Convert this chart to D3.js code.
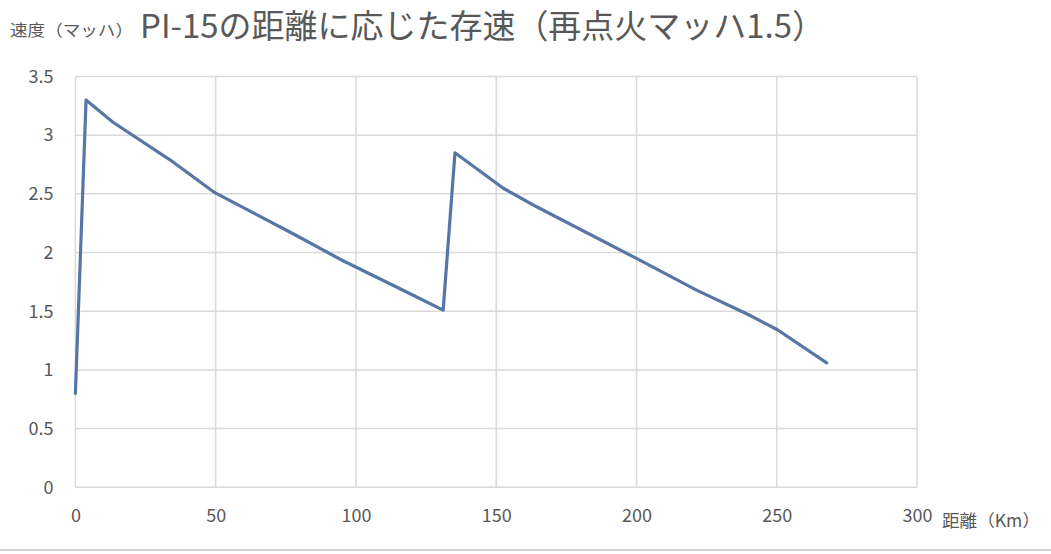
<!DOCTYPE html>
<html><head><meta charset="utf-8">
<script src="https://cdn.jsdelivr.net/npm/d3@7"></script>
<style>body{margin:0;background:#fff;}svg{display:block;}</style>
</head><body>
<script>
const distanceKm = [0, 3.8, 13.4, 33.7, 49.7, 77.6, 95.4, 115, 131.1, 135.3, 152.4, 164.4, 200, 221.4, 240, 250.4, 267.8];
const speedMach  = [0.8, 3.30, 3.11, 2.79, 2.51, 2.16, 1.93, 1.70, 1.51, 2.85, 2.55, 2.39, 1.95, 1.68, 1.47, 1.34, 1.06];
const xTicks = [0, 50, 100, 150, 200, 250, 300];
const yTicks = [0, 0.5, 1, 1.5, 2, 2.5, 3, 3.5];
const yTickLabels = ["0", "0.5", "1", "1.5", "2", "2.5", "3", "3.5"];
const titleText = "PI-15の距離に応じた存速（再点火マッハ1.5）";
const yLabel = "速度（マッハ）";
const xLabel = "距離（Km）";

const W = 1051, H = 554;
const font = "'Noto Sans CJK JP','Noto Sans',sans-serif";
const svg = d3.select("body").append("svg").attr("width", W).attr("height", H);
const x = d3.scaleLinear().domain([0, 300]).range([75.4, 917]);
const y = d3.scaleLinear().domain([0, 3.5]).range([487.3, 76.5]);

// gridlines
svg.append("g").selectAll("line").data(yTicks).join("line")
  .attr("x1", x(0)).attr("x2", x(300)).attr("y1", d => y(d)).attr("y2", d => y(d))
  .attr("stroke", "#d9d9d9").attr("stroke-width", 1.5);
svg.append("g").selectAll("line").data(xTicks).join("line")
  .attr("y1", y(0)).attr("y2", y(3.5)).attr("x1", d => x(d)).attr("x2", d => x(d))
  .attr("stroke", "#d9d9d9").attr("stroke-width", 1.5);

// axes labels via d3 axes
const yAxis = d3.axisLeft(y).tickValues(yTicks).tickFormat((d, i) => yTickLabels[i]).tickSize(0).tickPadding(22);
const gy = svg.append("g").attr("transform", `translate(${x(0)},0)`).call(yAxis);
gy.select(".domain").remove();
gy.selectAll("text").attr("font-family", font).attr("font-size", 18).attr("fill", "#595959");

const xAxis = d3.axisBottom(x).tickValues(xTicks).tickFormat(d3.format("d")).tickSize(0).tickPadding(22);
const gx = svg.append("g").attr("transform", `translate(0,${y(0)})`).call(xAxis);
gx.select(".domain").remove();
gx.selectAll("text").attr("font-family", font).attr("font-size", 18).attr("fill", "#595959");

// line
const pts = distanceKm.map((d, i) => [d, speedMach[i]]);
svg.append("path").datum(pts)
  .attr("d", d3.line().x(d => x(d[0])).y(d => y(d[1])))
  .attr("fill", "none").attr("stroke", "#5677a6").attr("stroke-width", 3.2)
  .attr("stroke-linejoin", "round").attr("stroke-linecap", "round");

// titles
svg.append("text").attr("x", 10).attr("y", 36).text(yLabel)
  .attr("font-family", font).attr("font-size", 16).attr("fill", "#595959")
  .attr("textLength", 123).attr("lengthAdjust", "spacingAndGlyphs");
svg.append("text").attr("x", 140).attr("y", 38).text(titleText)
  .attr("font-family", font).attr("font-size", 33).attr("fill", "#595959")
  .attr("textLength", 685).attr("lengthAdjust", "spacingAndGlyphs");
svg.append("text").attr("x", 942).attr("y", 527).text(xLabel)
  .attr("font-family", font).attr("font-size", 17).attr("fill", "#595959")
  .attr("textLength", 98).attr("lengthAdjust", "spacingAndGlyphs");

// bottom frame line
svg.append("line").attr("x1", 0).attr("x2", W).attr("y1", 550).attr("y2", 550)
  .attr("stroke", "#bfbfbf").attr("stroke-width", 1.5);
</script>
</body></html>
